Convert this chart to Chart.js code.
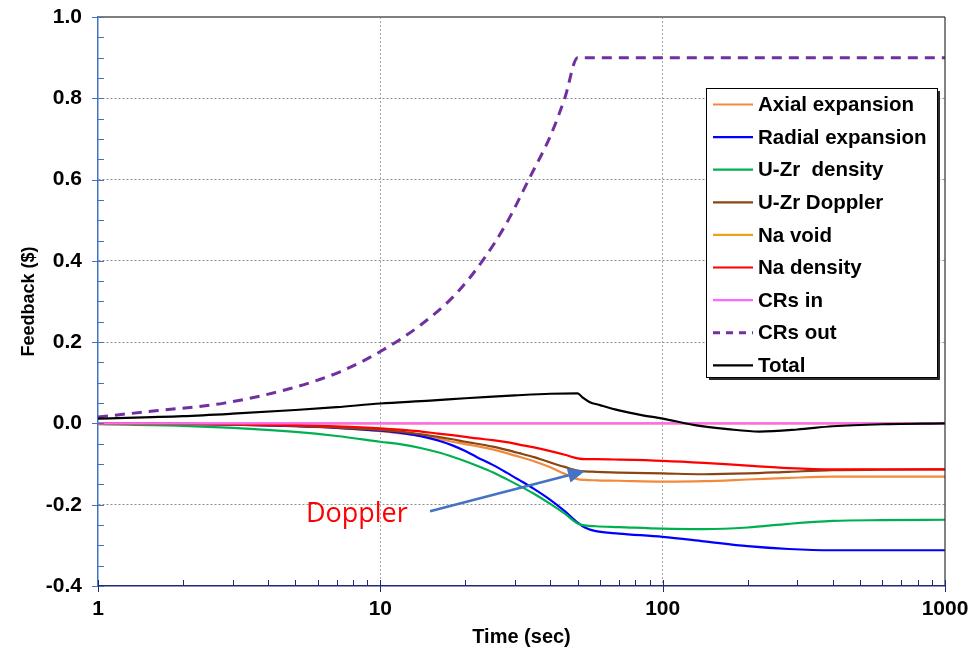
<!DOCTYPE html>
<html>
<head>
<meta charset="utf-8">
<script src="https://cdn.jsdelivr.net/npm/chart.js@4.4.1/dist/chart.umd.min.js"></script>
<style>
html,body{margin:0;padding:0;background:#ffffff;}
#wrap{position:relative;width:978px;height:651px;}
</style>
</head>
<body>
<div id="wrap"><canvas id="c" width="978" height="651"></canvas></div>
<script>
// ---------- DATA ----------
const seriesNames  = ['Axial expansion','Radial expansion','U-Zr  density','U-Zr Doppler','Na void','Na density','CRs in','CRs out','Total'];
const seriesColors = ['#F28A3C','#0000FF','#00B050','#8B4513','#E8A317','#FF0000','#FF66FF','#7030A0','#000000'];

// common time grid (s) for the reactivity-feedback components
const timeA = [1, 2, 3, 5, 7, 10, 12, 14, 16, 18, 20, 22, 25, 28, 31, 35, 40, 45, 50, 53, 58, 70, 100, 140, 200, 280, 400, 600, 1000];

const axialExpansion  = [0, -0.001, -0.003, -0.007, -0.011, -0.019, -0.025, -0.031, -0.038, -0.045, -0.051, -0.056, -0.064, -0.073, -0.082, -0.093, -0.108, -0.124, -0.137, -0.139, -0.140, -0.141, -0.143, -0.142, -0.138, -0.134, -0.131, -0.131, -0.131];
const radialExpansion = [0, -0.001, -0.003, -0.007, -0.011, -0.018, -0.024, -0.032, -0.042, -0.054, -0.068, -0.083, -0.102, -0.121, -0.139, -0.161, -0.188, -0.216, -0.244, -0.256, -0.265, -0.271, -0.279, -0.290, -0.302, -0.309, -0.312, -0.312, -0.312];
const uzrDensity      = [-0.002, -0.006, -0.011, -0.021, -0.031, -0.045, -0.052, -0.061, -0.071, -0.082, -0.093, -0.104, -0.120, -0.137, -0.153, -0.173, -0.198, -0.222, -0.246, -0.251, -0.253, -0.255, -0.259, -0.260, -0.256, -0.247, -0.240, -0.238, -0.237];
const uzrDoppler      = [0, -0.001, -0.003, -0.006, -0.010, -0.016, -0.021, -0.027, -0.033, -0.039, -0.045, -0.050, -0.057, -0.065, -0.073, -0.083, -0.096, -0.107, -0.116, -0.118, -0.119, -0.121, -0.123, -0.125, -0.123, -0.119, -0.115, -0.114, -0.113];
const naVoid          = [0, 0, 0, 0, 0, 0, 0, 0, 0, 0, 0, 0, 0, 0, 0, 0, 0, 0, 0, 0, 0, 0, 0, 0, 0, 0, 0, 0, 0];
const naDensity       = [0, -0.001, -0.002, -0.004, -0.007, -0.012, -0.016, -0.020, -0.025, -0.029, -0.033, -0.037, -0.041, -0.046, -0.052, -0.059, -0.068, -0.077, -0.086, -0.088, -0.088, -0.089, -0.092, -0.097, -0.104, -0.110, -0.113, -0.113, -0.113];
const crsIn           = [0, 0, 0, 0, 0, 0, 0, 0, 0, 0, 0, 0, 0, 0, 0, 0, 0, 0, 0, 0, 0, 0, 0, 0, 0, 0, 0, 0, 0];

const timeCRsOut = [1, 1.6, 2.8, 4.8, 7.2, 10, 14, 18.6, 23, 28, 34, 40, 45, 50, 1000];
const crsOut     = [0.016, 0.031, 0.050, 0.086, 0.127, 0.177, 0.244, 0.320, 0.400, 0.493, 0.608, 0.707, 0.800, 0.900, 0.900];

const timeTotal = [1, 2, 3, 5, 7, 10, 15, 20, 25, 30, 40, 50, 52, 55, 60, 70, 85, 100, 130, 170, 220, 300, 400, 600, 1000];
const total     = [0.012, 0.018, 0.024, 0.033, 0.040, 0.049, 0.056, 0.062, 0.066, 0.069, 0.073, 0.074, 0.064, 0.053, 0.045, 0.032, 0.020, 0.012, -0.004, -0.014, -0.020, -0.015, -0.007, -0.002, 0];

const xTickLabels = [1, 10, 100, 1000];
const yMin = -0.4, yMax = 1.0, yStep = 0.2, yMinorStep = 0.05;

// annotation anchors (data coordinates)
const annotationText = 'Doppler';
const annotationTextAt = {t: 5.45, v: -0.242};
const arrowFrom = {t: 15.0, v: -0.216};
const arrowTo   = {t: 53.1, v: -0.117};

// ---------- BUILD ----------
const seriesValues = [axialExpansion, radialExpansion, uzrDensity, uzrDoppler, naVoid, naDensity, crsIn, crsOut, total];
const seriesTimes  = [timeA, timeA, timeA, timeA, timeA, timeA, timeA, timeCRsOut, timeTotal];

const datasets = seriesNames.map((name, i) => ({
  label: name,
  data: seriesTimes[i].map((t, k) => ({x: t, y: seriesValues[i][k]})),
  borderColor: seriesColors[i],
  backgroundColor: seriesColors[i],
  borderWidth: name === 'CRs out' ? 3 : 2.2,
  borderDash: name === 'CRs out' ? [10, 7] : [],
  pointRadius: 0,
  fill: false,
  cubicInterpolationMode: 'monotone',
  order: seriesNames.length - 1 - i
}));

const FONT = '"Liberation Sans", Arial, sans-serif';

function isMajorY(v) {
  const r = v / yStep;
  return Math.abs(r - Math.round(r)) < 1e-6;
}

const decor = {
  id: 'decor',
  afterDatasetsDraw(chart) {
    const {ctx, scales: {x, y}} = chart;
    ctx.save();
    // arrow
    const x1 = x.getPixelForValue(arrowFrom.t), y1 = y.getPixelForValue(arrowFrom.v);
    const x2 = x.getPixelForValue(arrowTo.t),   y2 = y.getPixelForValue(arrowTo.v);
    const ang = Math.atan2(y2 - y1, x2 - x1);
    const headLen = 17, headHalf = 7.5;
    const bx = x2 - headLen * Math.cos(ang), by = y2 - headLen * Math.sin(ang);
    ctx.strokeStyle = '#4472C4';
    ctx.fillStyle = '#4472C4';
    ctx.lineWidth = 2.5;
    ctx.beginPath(); ctx.moveTo(x1, y1); ctx.lineTo(bx, by); ctx.stroke();
    ctx.beginPath();
    ctx.moveTo(x2, y2);
    ctx.lineTo(bx + headHalf * Math.sin(ang), by - headHalf * Math.cos(ang));
    ctx.lineTo(bx - headHalf * Math.sin(ang), by + headHalf * Math.cos(ang));
    ctx.closePath(); ctx.fill();
    // text
    ctx.fillStyle = '#FF0000';
    ctx.font = '27px "Open Sans", sans-serif';
    ctx.textAlign = 'left';
    ctx.textBaseline = 'alphabetic';
    ctx.fillText(annotationText, x.getPixelForValue(annotationTextAt.t), y.getPixelForValue(annotationTextAt.v));
    ctx.restore();
  },
  afterDraw(chart) {
    const {ctx, chartArea: a, scales: {x, y}} = chart;
    ctx.save();
    // top and right frame
    ctx.strokeStyle = '#7F7F7F'; ctx.lineWidth = 2;
    ctx.beginPath(); ctx.moveTo(a.left, a.top); ctx.lineTo(a.right, a.top); ctx.stroke();
    ctx.strokeStyle = '#303030'; ctx.lineWidth = 1.2;
    ctx.beginPath(); ctx.moveTo(a.right, a.top); ctx.lineTo(a.right, a.bottom); ctx.stroke();
    // y tick marks
    ctx.strokeStyle = '#4472C4'; ctx.lineWidth = 1;
    const nY = Math.round((yMax - yMin) / yMinorStep);
    for (let k = 0; k <= nY; k++) {
      const v = yMin + k * yMinorStep;
      const py = Math.round(y.getPixelForValue(v)) + 0.5;
      const major = isMajorY(v);
      ctx.beginPath(); ctx.moveTo(a.left - (major ? 6 : 0), py); ctx.lineTo(a.left + 6, py); ctx.stroke();
    }
    // x tick marks
    ctx.strokeStyle = '#1F2A7A';
    xTickLabels.forEach((d, di) => {
      const px = Math.round(x.getPixelForValue(d)) + 0.5;
      ctx.beginPath(); ctx.moveTo(px, a.bottom - 6); ctx.lineTo(px, a.bottom + 6); ctx.stroke();
      if (di < xTickLabels.length - 1) {
        for (let m = 2; m <= 9; m++) {
          const qx = Math.round(x.getPixelForValue(m * d)) + 0.5;
          ctx.beginPath(); ctx.moveTo(qx, a.bottom - 6); ctx.lineTo(qx, a.bottom); ctx.stroke();
        }
      }
    });
    // legend
    const bw = 231, bh = 289;
    const bxL = a.right - 239, byT = a.top + 71;
    ctx.fillStyle = '#2a2a2a';
    ctx.fillRect(bxL + 3, byT + 3, bw, bh);
    ctx.fillStyle = '#ffffff';
    ctx.fillRect(bxL, byT, bw, bh);
    ctx.strokeStyle = '#000000'; ctx.lineWidth = 1;
    ctx.strokeRect(bxL + 0.5, byT + 0.5, bw, bh);
    ctx.font = 'bold 20.5px ' + FONT;
    ctx.textAlign = 'left';
    ctx.textBaseline = 'middle';
    chart.data.datasets.forEach((ds, i) => {
      const ry = byT + 16.5 + i * 32.6;
      ctx.strokeStyle = ds.borderColor;
      ctx.lineWidth = ds.label === 'CRs out' ? 3 : 2.2;
      ctx.setLineDash(ds.label === 'CRs out' ? [7, 6] : []);
      ctx.beginPath(); ctx.moveTo(bxL + 7, ry); ctx.lineTo(bxL + 47, ry); ctx.stroke();
      ctx.setLineDash([]);
      ctx.fillStyle = '#000000';
      ctx.fillText(ds.label, bxL + 52, ry + 1);
    });
    ctx.restore();
  }
};

new Chart(document.getElementById('c'), {
  type: 'line',
  data: {datasets},
  options: {
    responsive: false,
    animation: false,
    devicePixelRatio: 1,
    layout: {padding: {top: 17, right: 33, left: 0, bottom: 0}},
    plugins: {legend: {display: false}, tooltip: {enabled: false}},
    scales: {
      x: {
        type: 'logarithmic',
        min: 1, max: 1000,
        afterFit: (s) => { s.height = 65; s.paddingLeft = 0; s.paddingRight = 0; },
        grid: {
          drawTicks: false,
          lineWidth: 1,
          color: (c) => (c.tick && (c.tick.value === 10 || c.tick.value === 100)) ? '#A6A6A6' : 'rgba(0,0,0,0)'
        },
        border: {display: true, color: '#1F2A7A', width: 1.5, dash: [2, 2]},
        ticks: {
          autoSkip: false, maxRotation: 0, padding: 11,
          color: '#000000',
          font: {family: FONT, size: 21, weight: 'bold'},
          callback: (v) => xTickLabels.some(t => Math.abs(t - v) < 1e-9) ? String(Math.round(v)) : ''
        },
        title: {display: true, text: 'Time (sec)', color: '#000000',
                font: {family: FONT, size: 20, weight: 'bold'}, padding: {top: 0, bottom: 2}}
      },
      y: {
        type: 'linear',
        min: yMin, max: yMax,
        afterFit: (s) => { s.width = 98; s.paddingTop = 0; s.paddingBottom = 0; },
        grid: {
          drawTicks: false,
          lineWidth: 1,
          color: (c) => {
            const v = c.tick ? c.tick.value : null;
            if (v === null || v <= yMin + 1e-6 || v >= yMax - 1e-6) return 'rgba(0,0,0,0)';
            return '#8C8C8C';
          }
        },
        border: {display: true, color: '#4472C4', width: 1.5, dash: [2, 2]},
        ticks: {
          stepSize: yStep, padding: 16,
          color: '#000000',
          font: {family: FONT, size: 21, weight: 'bold'},
          callback: (v) => (Math.abs(v) < 1e-9 ? 0 : v).toFixed(1)
        },
        title: {display: true, text: 'Feedback ($)', color: '#000000',
                font: {family: FONT, size: 18, weight: 'bold'}, padding: {top: 18, bottom: 0}}
      }
    }
  },
  plugins: [decor]
});
</script>
</body>
</html>
